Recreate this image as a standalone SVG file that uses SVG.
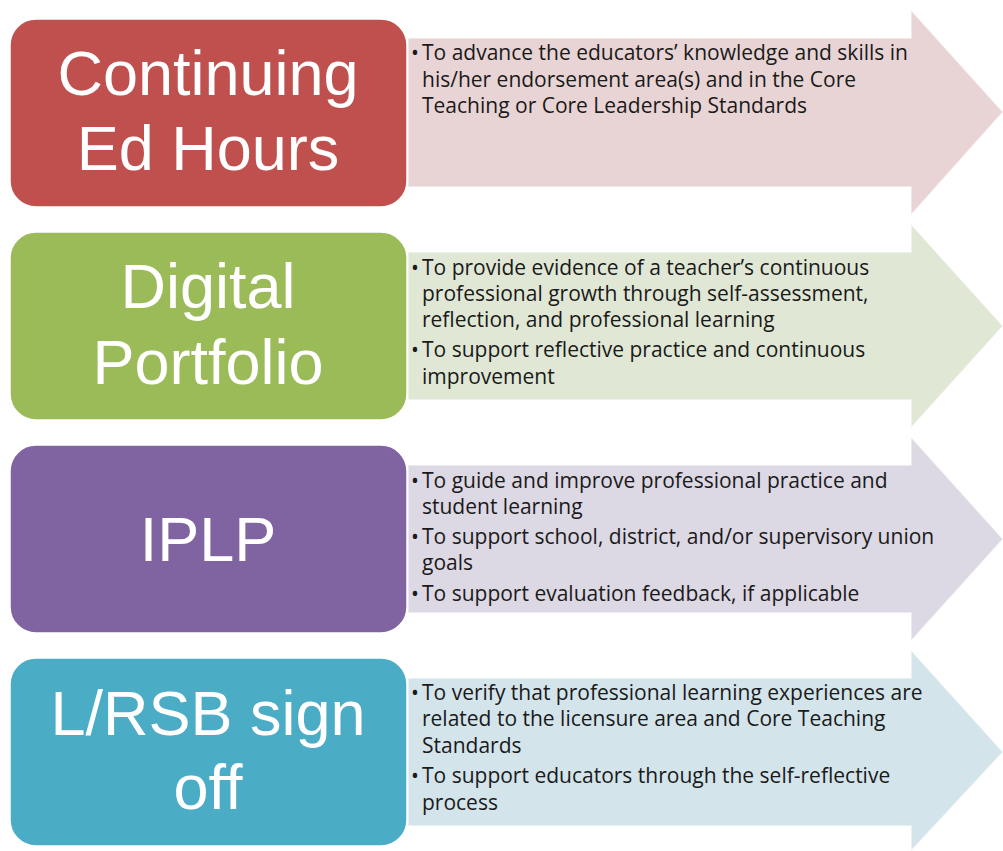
<svg xmlns="http://www.w3.org/2000/svg" width="1003" height="851" viewBox="0 0 1003 851">
<style>
.box{stroke:#ffffff;stroke-width:1.5}
.arrow{stroke:#ffffff;stroke-opacity:0.6;stroke-width:1.5}
.title{font-family:"Liberation Sans",Arial,sans-serif;font-size:63px;fill:#ffffff;text-anchor:middle}
.body{font-family:"Open Sans","Liberation Sans",sans-serif;font-size:21px;fill:#1a1a1a}
</style>
<rect width="1003" height="851" fill="#ffffff"/>
<g id="connectors">
<path class="arrow" fill="#E8D4D4" d="M408,38 H911 V10 L1003,112 L911,215 V187 H408 Z"/>
<path class="arrow" fill="#E0E8D5" d="M408,252 H911 V224 L1003,326 L911,428 V400 H408 Z"/>
<path class="arrow" fill="#DCD8E4" d="M408,465 H911 V437 L1003,539 L911,641 V613 H408 Z"/>
<path class="arrow" fill="#D3E4EB" d="M408,678 H911 V650 L1003,752 L911,851 V826 H408 Z"/>
</g>
<g id="node1">
<rect class="box" x="10" y="19" width="397" height="188" rx="26" fill="#C0504D"/>
<text class="title" x="208" y="95">Continuing</text>
<text class="title" x="208" y="170">Ed Hours</text>
<text class="body" x="411" y="60">•</text>
<text class="body" x="422" y="60">To advance the educators’ knowledge and skills in</text>
<text class="body" x="422" y="87">his/her endorsement area(s) and in the Core</text>
<text class="body" x="422" y="113">Teaching or Core Leadership Standards</text>
</g>
<g id="node2">
<rect class="box" x="10" y="232" width="397" height="188" rx="26" fill="#9BBB59"/>
<text class="title" x="208" y="308">Digital</text>
<text class="title" x="208" y="384">Portfolio</text>
<text class="body" x="411" y="275">•</text>
<text class="body" x="422" y="275">To provide evidence of a teacher’s continuous</text>
<text class="body" x="422" y="301">professional growth through self-assessment,</text>
<text class="body" x="422" y="327">reflection, and professional learning</text>
<text class="body" x="411" y="357">•</text>
<text class="body" x="422" y="357">To support reflective practice and continuous</text>
<text class="body" x="422" y="384">improvement</text>
</g>
<g id="node3">
<rect class="box" x="10" y="445" width="397" height="188" rx="26" fill="#8064A2"/>
<text class="title" x="208" y="561">IPLP</text>
<text class="body" x="411" y="488">•</text>
<text class="body" x="422" y="488">To guide and improve professional practice and</text>
<text class="body" x="422" y="514">student learning</text>
<text class="body" x="411" y="544">•</text>
<text class="body" x="422" y="544">To support school, district, and/or supervisory union</text>
<text class="body" x="422" y="570">goals</text>
<text class="body" x="411" y="601">•</text>
<text class="body" x="422" y="601">To support evaluation feedback, if applicable</text>
</g>
<g id="node4">
<rect class="box" x="10" y="658" width="397" height="188" rx="26" fill="#4BACC6"/>
<text class="title" x="208" y="735">L/RSB sign</text>
<text class="title" x="208" y="809">off</text>
<text class="body" x="411" y="700">•</text>
<text class="body" x="422" y="700">To verify that professional learning experiences are</text>
<text class="body" x="422" y="726">related to the licensure area and Core Teaching</text>
<text class="body" x="422" y="753">Standards</text>
<text class="body" x="411" y="783">•</text>
<text class="body" x="422" y="783">To support educators through the self-reflective</text>
<text class="body" x="422" y="810">process</text>
</g>
</svg>
